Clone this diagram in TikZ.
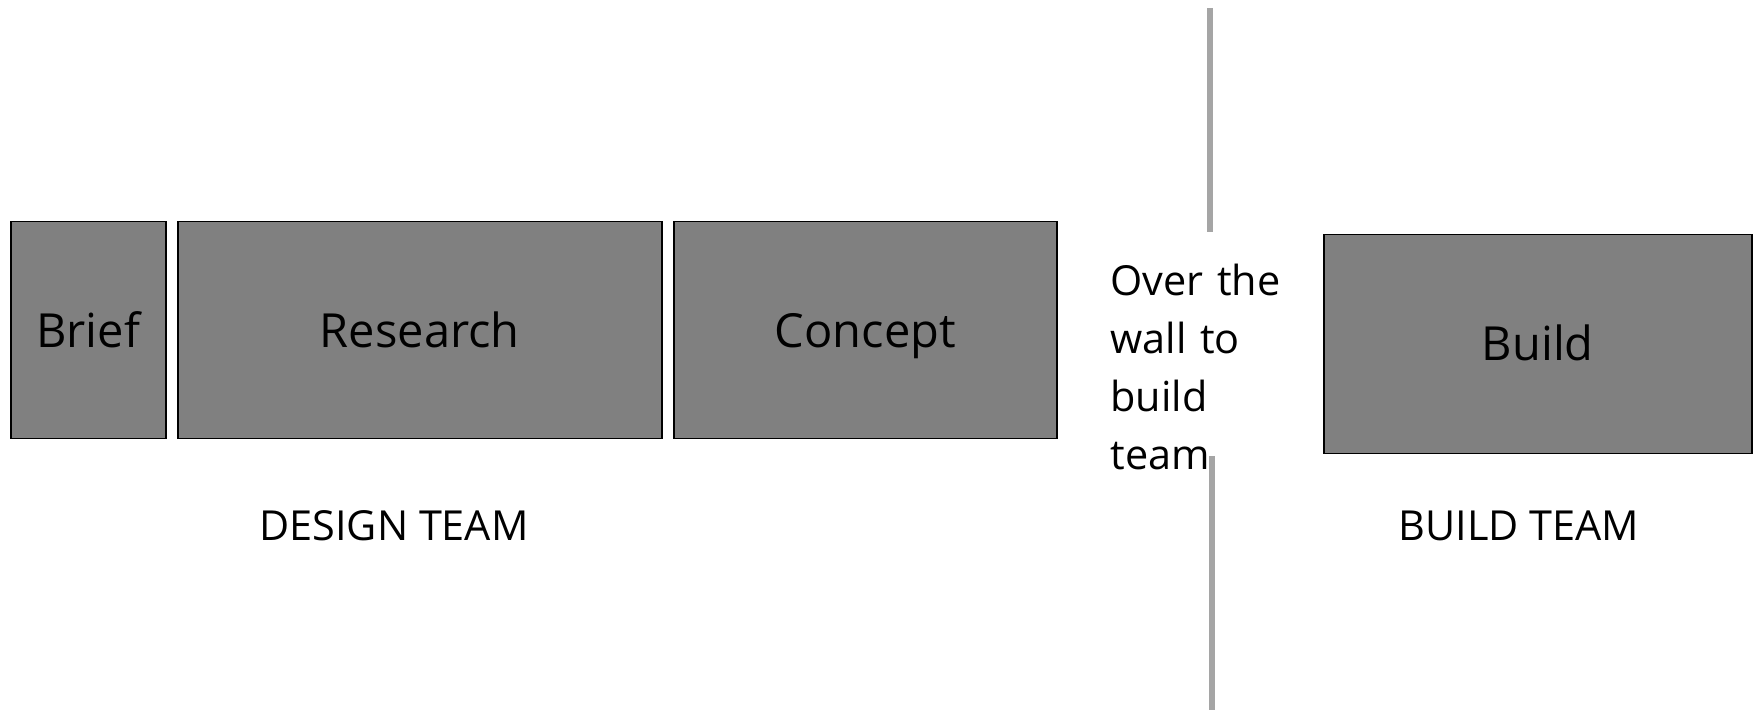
\documentclass[tikz,border=0pt]{standalone}
\usepackage{fontspec}
\setmainfont{Open Sans}
\usepackage{xcolor}
\usepackage{tikz}
\usetikzlibrary{positioning}
\definecolor{stagegrey}{RGB}{128,128,128}
\definecolor{wallgrey}{RGB}{165,165,165}

\begin{document}
\begin{tikzpicture}[
    x=0.5pt, y=-0.5pt,
    stage/.style={rectangle, draw=black, line width=0.75pt, fill=stagegrey,
                  minimum height=108.5pt, inner sep=0pt, text centered,
                  text height=17.3pt, text depth=0pt,
                  font=\fontsize{23.5}{28}\selectfont, text=black},
    team/.style={font=\fontsize{20.7}{29}\selectfont, inner sep=0pt},
    wall/.style={wallgrey, line width=2.7pt},
    node distance=5.25pt
]
\useasboundingbox (0,0) rectangle (1758,710);
% design team stages
\node[stage, minimum width=77.5pt, anchor=north west] (brief) at (10,221) {Brief};
\node[stage, minimum width=242pt, right=of brief] (research) {Research};
\node[stage, minimum width=191.5pt, right=of research] (concept) {Concept};
\node[team] (design) at (394,526) {DESIGN TEAM};
% build team
\node[stage, minimum width=214pt, minimum height=109.5pt, text height=16.1pt,
      anchor=north west] (build) at (1323,234) {Build};
\node[team] (buildteam) at (1519,526) {BUILD TEAM};
% the wall
\coordinate (walltop) at (1210,8);
\coordinate (wallgapa) at (1210,232);
\coordinate (wallgapb) at (1212,456);
\coordinate (wallfoot) at (1212,710);
\draw[wall] (walltop) -- (wallgapa);
\draw[wall] (wallgapb) -- (wallfoot);
\node[team, anchor=north west, text width=90pt, align=left] (over) at (1110,264)
    {Over the wall to build team};
\end{tikzpicture}
\end{document}
